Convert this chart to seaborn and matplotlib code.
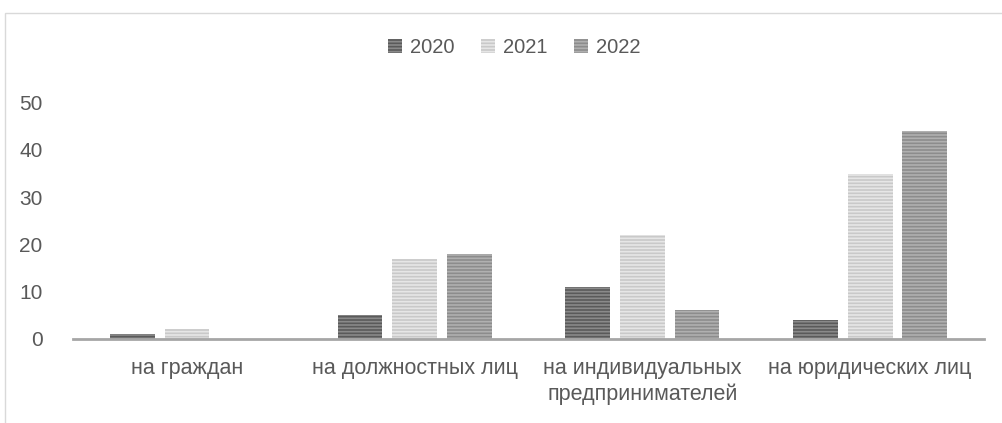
import numpy as np
import pandas as pd
import matplotlib
matplotlib.use("Agg")
import matplotlib.pyplot as plt
import matplotlib.patches as mpatches
import seaborn as sns

# --- Data ---
categories = ["на граждан", "на должностных лиц", "на индивидуальных\nпредпринимателей", "на юридических лиц"]
years = ["2020", "2021", "2022"]
values_2020 = [1, 5, 11, 4]
values_2021 = [2, 17, 22, 35]
values_2022 = [0, 18, 6, 44]

FACE = {"2020": "#5a5a5a", "2021": "#c9c9c9", "2022": "#8c8c8c"}
HATCH = {"2020": "#8a8a8a", "2021": "#e6e6e6", "2022": "#b0b0b0"}
TEXT = "#595959"

df = pd.DataFrame({
    "category": categories * 3,
    "year": [y for y in years for _ in categories],
    "value": values_2020 + values_2021 + values_2022,
})

sns.set_theme(style="white")
plt.rcParams["font.family"] = ["Liberation Sans", "DejaVu Sans"]
plt.rcParams["hatch.linewidth"] = 1.2

fig = plt.figure(figsize=(10.02, 4.23), dpi=100)
ax = fig.add_axes([0.073, 0.199, 0.909, 0.558])

sns.barplot(data=df, x="category", y="value", hue="year", order=categories,
            hue_order=years, palette=FACE, width=0.72, gap=0.18,
            legend=False, ax=ax)

for cont, yr in zip(ax.containers, years):
    for bar in cont:
        bar.set_hatch("-----")
        bar.set_edgecolor(HATCH[yr])
        bar.set_linewidth(0)

ax.set_ylim(0, 50)
ax.set_xlim(-0.5, 3.5)
ax.set_yticks(np.arange(0, 51, 10))
ax.set_xlabel("")
ax.set_ylabel("")
for s in ["top", "right", "left"]:
    ax.spines[s].set_visible(False)
ax.spines["bottom"].set_color("#a6a6a6")
ax.spines["bottom"].set_linewidth(2)
ax.tick_params(axis="y", length=0, labelsize=15, labelcolor=TEXT, pad=22)
ax.tick_params(axis="x", length=0, labelsize=15.5, labelcolor=TEXT, pad=14)
for lbl in ax.get_xticklabels():
    lbl.set_linespacing(1.25)

handles = [mpatches.Patch(facecolor=FACE[y], edgecolor=HATCH[y], hatch="-----",
                          linewidth=0, label=y) for y in years]
fig.legend(handles=handles, loc="center", bbox_to_anchor=(0.513, 0.887), ncol=3,
           frameon=False, fontsize=14.5, labelcolor=TEXT, handlelength=0.7,
           handleheight=0.7, handletextpad=0.4, columnspacing=1.3)

# chart frame
fig.add_artist(mpatches.Rectangle((0.005, -0.1), 1.2, 1.07, transform=fig.transFigure,
                                  fill=False, edgecolor="#d9d9d9", linewidth=1))

fig.savefig("out.png", dpi=100)
